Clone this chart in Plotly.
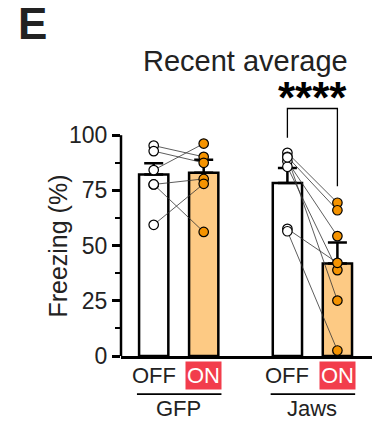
import plotly.graph_objects as go

# ---- data ----
groups = ["GFP", "Jaws"]
conditions = ["OFF", "ON"]
gfp_off = [95.3, 92.8, 84.2, 77.7, 77.7, 59.4]
gfp_on = [90.2, 87.5, 96.2, 80.2, 56.2, 78.0]
jaws_off = [92.0, 90.2, 88.2, 85.7, 90.0, 57.6, 56.5]
jaws_on = [69.4, 66.0, 54.3, 38.9, 25.1, 42.2, 2.5]
bar_mean = {"GFP": [82.2, 83.0], "Jaws": [78.4, 41.9]}
bar_sem = {"GFP": [5.1, 5.9], "Jaws": [6.8, 9.5]}
yticks = [0, 25, 50, 75, 100]
yminor = [12.5, 37.5, 62.5, 87.5]
title_text = "Recent average"
ylabel = "Freezing (%)"
sig_text = "****"
panel = "E"

points = {"GFP": (gfp_off, gfp_on), "Jaws": (jaws_off, jaws_on)}

# ---- layout constants ----
GROUP_STEP = 2.674
FONT = "Arial, Liberation Sans, Helvetica, sans-serif"
WHITE_FILL = "white"
ON_FILL = "#fdca84"
ON_MARK = "#f59300"
RED = "#f23d4c"

def xpos(gi, ci):
    return gi * GROUP_STEP + ci

fig = go.Figure()

# bars
for ci, cond in enumerate(conditions):
    xs = [xpos(gi, ci) for gi in range(len(groups))]
    ys = [bar_mean[g][ci] for g in groups]
    es = [bar_sem[g][ci] for g in groups]
    fig.add_trace(go.Bar(
        x=xs, y=ys, width=0.585,
        marker=dict(color=WHITE_FILL if ci == 0 else ON_FILL,
                    line=dict(color="black", width=2.5)),
        error_y=dict(type="data", array=es, arrayminus=[0] * len(es),
                     symmetric=False, color="black", thickness=2.5, width=9.5),
        showlegend=False, hoverinfo="skip",
    ))

# paired lines
lx, ly = [], []
for gi, g in enumerate(groups):
    off, on = points[g]
    for a, b in zip(off, on):
        lx += [xpos(gi, 0), xpos(gi, 1), None]
        ly += [a, b, None]
fig.add_trace(go.Scatter(x=lx, y=ly, mode="lines",
                         line=dict(color="#333333", width=0.8),
                         showlegend=False, hoverinfo="skip"))

# points
for ci in range(2):
    xs, ys = [], []
    for gi, g in enumerate(groups):
        vals = points[g][ci]
        xs += [xpos(gi, ci)] * len(vals)
        ys += vals
    fig.add_trace(go.Scatter(
        x=xs, y=ys, mode="markers", cliponaxis=False,
        marker=dict(size=9.5, color=WHITE_FILL if ci == 0 else ON_MARK,
                    line=dict(color="black", width=1.2)),
        showlegend=False, hoverinfo="skip"))

shapes = []
# y-axis line (0..100 only)
shapes.append(dict(type="line", xref="paper", yref="y", x0=0, x1=0,
                   y0=yticks[0], y1=yticks[-1],
                   line=dict(color="black", width=2.5)))
# significance bracket (Jaws OFF vs ON)
jx0, jx1 = xpos(1, 0), xpos(1, 1)
shapes.append(dict(type="path", xref="x", yref="y",
                   path=f"M {jx0},98.8 L {jx0},112.1 L {jx1},112.1 L {jx1},76.9",
                   line=dict(color="black", width=1.3)))
# group underlines
for gi in range(len(groups)):
    shapes.append(dict(type="line", xref="x", yref="paper",
                       x0=xpos(gi, 0) - 0.335, x1=xpos(gi, 1) + 0.355,
                       y0=-0.138, y1=-0.138,
                       line=dict(color="black", width=1.6)))

annotations = []
annotations.append(dict(text=title_text, xref="paper", yref="paper",
                        x=0.498, y=1.069, showarrow=False,
                        font=dict(family=FONT, size=29, color="#222"),
                        xanchor="center", yanchor="middle"))
annotations.append(dict(text=f"<b>{panel}</b>", xref="paper", yref="paper",
                        x=-0.42, y=1.30, showarrow=False,
                        font=dict(family=FONT, size=44, color="#222"),
                        xanchor="left", yanchor="top"))
annotations.append(dict(text=f"<b>{sig_text}</b>", xref="x", yref="y",
                        x=(jx0 + jx1) / 2, y=105, showarrow=False,
                        font=dict(family=FONT, size=44, color="black"),
                        xanchor="center", yanchor="bottom"))
annotations.append(dict(text=ylabel, xref="paper", yref="paper",
                        x=-0.251, y=0.40, showarrow=False, textangle=-90,
                        font=dict(family=FONT, size=25, color="#222"),
                        xanchor="center", yanchor="middle"))
for gi, g in enumerate(groups):
    for ci, cond in enumerate(conditions):
        if ci == 0:
            annotations.append(dict(text=cond, xref="x", yref="paper",
                                    x=xpos(gi, ci), y=-0.072, showarrow=False,
                                    font=dict(family=FONT, size=22, color="#222"),
                                    xanchor="center", yanchor="middle"))
        else:
            annotations.append(dict(text=cond, xref="x", yref="paper",
                                    x=xpos(gi, ci), y=-0.072, showarrow=False,
                                    font=dict(family=FONT, size=22, color="white"),
                                    bgcolor=RED, borderpad=1,
                                    xanchor="center", yanchor="middle"))
    annotations.append(dict(text=g, xref="x", yref="paper",
                            x=xpos(gi, 0) + 0.5, y=-0.192, showarrow=False,
                            font=dict(family=FONT, size=22, color="#222"),
                            xanchor="center", yanchor="middle"))

fig.update_layout(
    width=372, height=423,
    margin=dict(l=121, r=0, t=80, b=67),
    paper_bgcolor="white", plot_bgcolor="white",
    barmode="overlay",
    shapes=shapes, annotations=annotations,
    font=dict(family=FONT, color="#222"),
    xaxis=dict(range=[-0.654, 4.366], showline=True, linecolor="black",
               linewidth=2.5, showticklabels=False, ticks="", showgrid=False,
               zeroline=False, fixedrange=True),
    yaxis=dict(range=[0, 125], showline=False, showgrid=False, zeroline=False,
               tickmode="array", tickvals=yticks, ticks="outside", ticklen=8,
               tickwidth=2.5, tickcolor="black",
               tickfont=dict(family=FONT, size=23, color="#222"),
               minor=dict(tickvals=yminor, ticks="outside", ticklen=5,
                          tickwidth=2, tickcolor="black"),
               fixedrange=True),
)

fig.write_html("out.html", config={"displayModeBar": False},
               post_script="document.body.style.margin='0';document.body.style.overflow='hidden';")
